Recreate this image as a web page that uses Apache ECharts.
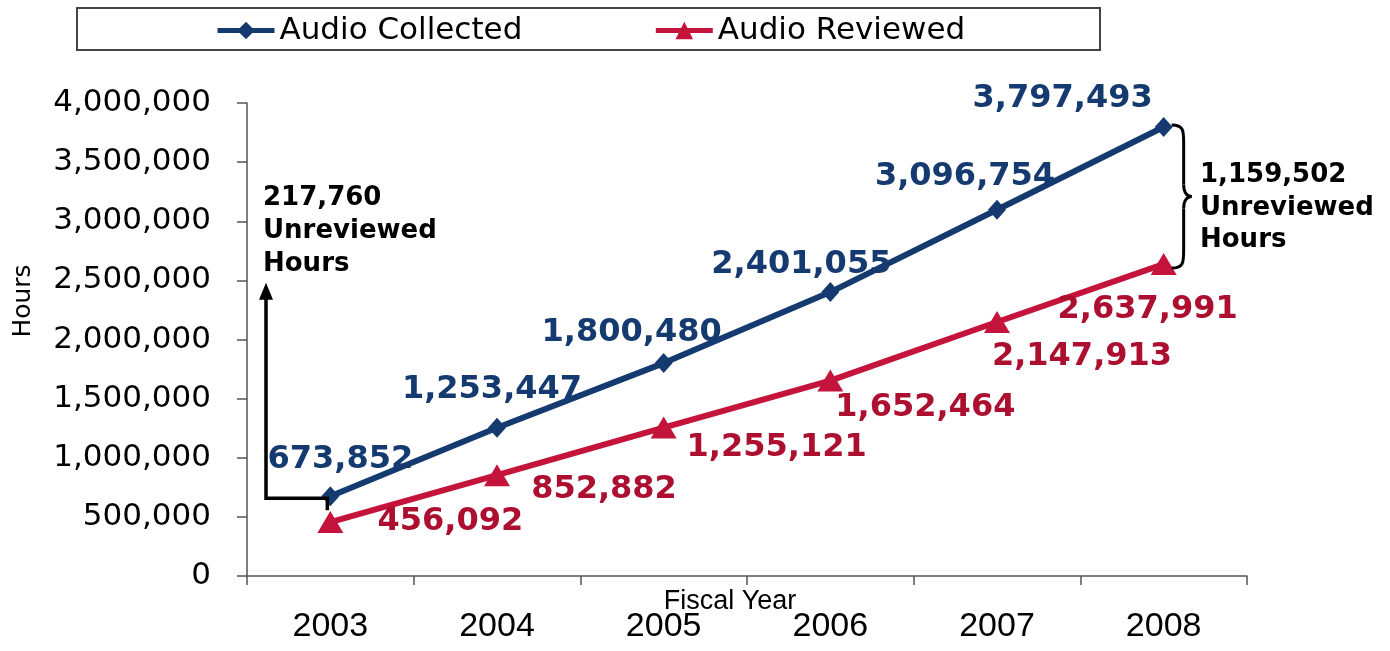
<!DOCTYPE html>
<html><head><meta charset="utf-8">
<script src="https://cdn.jsdelivr.net/npm/echarts@6/dist/echarts.min.js"></script>
<style>html,body{margin:0;padding:0;background:#fff}#c{width:1390px;height:651px}</style>
</head><body><div id="c"></div>
<script>
var years = ['2003','2004','2005','2006','2007','2008'];
var audioCollected = [673852, 1253447, 1800480, 2401055, 3096754, 3797493];
var audioReviewed = [456092, 852882, 1255121, 1652464, 2147913, 2637991];
var yTicks = [0, 500000, 1000000, 1500000, 2000000, 2500000, 3000000, 3500000, 4000000];
var collectedLabelOffsets = [[10,-37],[-5,-38],[-32,-30],[-29,-27],[-32,-33],[-101,-28]];
var reviewedLabelOffsets = [[120,0],[107,15],[113,20],[95,27],[85,35],[-16,46]];

var BLUE = '#143a70', RED = '#c4143c', RED_T = '#ad0f30';
function fmt(v){ return String(v).replace(/\B(?=(\d{3})+(?!\d))/g, ','); }

var chart = echarts.init(document.getElementById('c'));
function items(vals, offs){
  return vals.map(function(v,i){ return {value:v, label:{offset:offs[i]}}; });
}
var opt = {
  animation:false,
  textStyle:{fontFamily:'DejaVu Sans'},
  grid:{left:247, right:143, top:103, bottom:75, containLabel:false},
  legend:{
    data:['Audio Collected','Audio Reviewed'], left:215, top:15, padding:0,
    itemWidth:57, itemHeight:22, itemGap:131,
    lineStyle:{width:5},
    textStyle:{fontSize:31, color:'#000', fontFamily:'DejaVu Sans'}
  },
  xAxis:{
    type:'category', data:years, boundaryGap:true,
    axisLine:{lineStyle:{color:'#555', width:1.5}},
    axisTick:{show:true, interval:0, length:9, lineStyle:{color:'#555', width:1.5}},
    axisLabel:{fontSize:34, color:'#000', margin:34, fontFamily:'Liberation Sans'},
    splitLine:{show:false}
  },
  yAxis:{
    type:'value', min:yTicks[0], max:yTicks[yTicks.length-1], interval:yTicks[1]-yTicks[0],
    axisLine:{show:true, lineStyle:{color:'#555', width:1.5}},
    axisTick:{show:true, length:10, lineStyle:{color:'#555', width:1.5}},
    axisLabel:{fontSize:31, color:'#000', margin:36, fontFamily:'DejaVu Sans', formatter:function(v){return fmt(v);}},
    splitLine:{show:false}
  },
  series:[
    {name:'Audio Collected', type:'line', data:items(audioCollected, collectedLabelOffsets),
     symbol:'diamond', symbolSize:[18,20], z:3,
     lineStyle:{color:BLUE, width:6}, itemStyle:{color:BLUE},
     label:{show:true, position:'inside', color:BLUE, fontSize:32, fontWeight:'bold', fontFamily:'DejaVu Sans',
            formatter:function(p){return fmt(p.value);}}},
    {name:'Audio Reviewed', type:'line', data:items(audioReviewed, reviewedLabelOffsets),
     symbol:'triangle', symbolSize:[26,22], z:2,
     lineStyle:{color:RED, width:6}, itemStyle:{color:RED},
     label:{show:true, position:'inside', color:RED_T, fontSize:32, fontWeight:'bold', fontFamily:'DejaVu Sans',
            formatter:function(p){return fmt(p.value);}}}
  ]
};
chart.setOption(opt);

var c03 = chart.convertToPixel({seriesIndex:0}, [0, audioCollected[0]]);
var c08 = chart.convertToPixel({seriesIndex:0}, [5, audioCollected[5]]);
var r08 = chart.convertToPixel({seriesIndex:1}, [5, audioReviewed[5]]);
var top25 = chart.convertToPixel({yAxisIndex:0}, 2480000);
var ax = 247 + 19;
var bx = c08[0] + 10, sp = bx + 10, tip = bx + 18;
var y1 = c08[1] - 2, y2 = r08[1] + 4, mid = (y1 + y2) / 2;
var braceStyle = {stroke:'#000', lineWidth:3, fill:'none'};

chart.setOption({
  graphic:[
    {type:'rect', shape:{x:77, y:8, width:1023, height:42}, style:{fill:'none', stroke:'#444', lineWidth:2}, z:-1},
    {type:'text', x:23, y:301, rotation:Math.PI/2, style:{text:'Hours', fontSize:25, fontFamily:'DejaVu Sans', fill:'#000', textAlign:'center', textVerticalAlign:'middle'}},
    {type:'text', x:730, y:602, style:{text:'Fiscal Year', fontSize:27, fontFamily:'Liberation Sans', fill:'#000', textAlign:'center', textVerticalAlign:'middle'}},
    {type:'polyline', shape:{points:[[ax, top25+14],[ax, c03[1]+2],[c03[0]-3, c03[1]+2],[c03[0]-3, c03[1]+14]]},
     style:{stroke:'#000', lineWidth:3.5, fill:'none'}, z:10},
    {type:'polygon', shape:{points:[[ax, top25],[ax-7, top25+17],[ax+7, top25+17]]}, style:{fill:'#000'}, z:10},
    {type:'text', x:263, y:182, style:{text:'217,760\nUnreviewed\nHours', fontSize:26, fontWeight:'bold', fontFamily:'DejaVu Sans', fill:'#000', lineHeight:33}},
    {type:'bezierCurve', shape:{x1:bx-2, y1:y1, cpx1:sp, cpy1:y1, cpx2:sp, cpy2:y1+6, x2:sp, y2:y1+18}, style:braceStyle, z:10},
    {type:'line', shape:{x1:sp, y1:y1+18, x2:sp, y2:mid-12}, style:braceStyle, z:10},
    {type:'bezierCurve', shape:{x1:sp, y1:mid-12, cpx1:sp, cpy1:mid-3, cpx2:tip-4, cpy2:mid, x2:tip, y2:mid}, style:braceStyle, z:10},
    {type:'bezierCurve', shape:{x1:tip, y1:mid, cpx1:tip-4, cpy1:mid, cpx2:sp, cpy2:mid+3, x2:sp, y2:mid+12}, style:braceStyle, z:10},
    {type:'line', shape:{x1:sp, y1:mid+12, x2:sp, y2:y2-18}, style:braceStyle, z:10},
    {type:'bezierCurve', shape:{x1:sp, y1:y2-18, cpx1:sp, cpy1:y2-6, cpx2:sp, cpy2:y2, x2:bx-2, y2:y2}, style:braceStyle, z:10},
    {type:'text', x:1200, y:159, style:{text:'1,159,502\nUnreviewed\nHours', fontSize:26, fontWeight:'bold', fontFamily:'DejaVu Sans', fill:'#000', lineHeight:32.5}}
  ]
});
</script></body></html>
